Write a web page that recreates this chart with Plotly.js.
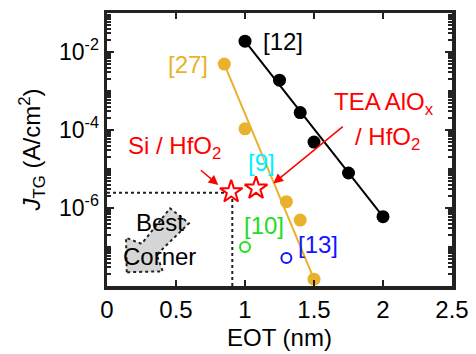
<!DOCTYPE html>
<html>
<head>
<meta charset="utf-8">
<script src="https://cdn.plot.ly/plotly-3.0.1.min.js"></script>
<style>html,body{margin:0;padding:0;background:#fff;}#chart{width:476px;height:354px;}</style>
</head>
<body>
<div id="chart"></div>
<script>
// ---- data ----
const ref12_x = [1.0, 1.25, 1.4, 1.5, 1.75, 2.0];
const ref12_y = [1.9e-2, 1.9e-3, 2.8e-4, 4.9e-5, 7.9e-6, 6.0e-7];
const ref12_fit_x = [1.0, 2.0];
const ref12_fit_y = [1.9e-2, 6.0e-7];

const ref27_x = [0.85, 1.0, 1.3, 1.4, 1.5];
const ref27_y = [4.9e-3, 1.07e-4, 1.45e-6, 4.9e-7, 1.5e-8];
const ref27_fit_x = [0.85, 1.5];
const ref27_fit_y = [4.9e-3, 1.5e-8];

const ref10_x = [1.0];
const ref10_y = [1.0e-7];
const ref13_x = [1.3];
const ref13_y = [5.2e-8];

const star_x = [0.9, 1.08];          // Si/HfO2, TEA AlOx/HfO2
const star_y = [2.6e-6, 3.2e-6];

const guide_h_x = [0, 0.908];
const guide_h_y = [2.45e-6, 2.45e-6];
const guide_v_x = [0.908, 0.908];
const guide_v_y = [1e-8, 2.45e-6];

// "Best corner" arrow outline
const best_x = [0.143, 0.138, 0.251, 0.457, 0.594, 0.360, 0.404, 0.143];
const best_y = [2.25e-8, 1.72e-7, 1.21e-7, 9.8e-7, 4.07e-7, 6.35e-8, 2.38e-8, 2.25e-8];

const yMajor = [1e-6, 1e-4, 1e-2];
const yMajorText = ['10<sup>-6</sup>', '10<sup>-4</sup>', '10<sup>-2</sup>'];
const xTicks = [0, 0.5, 1, 1.5, 2, 2.5];
const xTickText = ['0', '0.5', '1', '1.5', '2', '2.5'];

const ORANGE = '#EAB22C';
const FONT = 'Liberation Sans, Arial, sans-serif';

const yMinor = [];
for (let e = -8; e <= -2; e++) for (let k = 1; k <= 9; k++) {
  const v = k * Math.pow(10, e);
  if (!yMajor.some(m => Math.abs(m - v) / v < 1e-6)) yMinor.push(v);
}
yMinor.push(1e-1);

const traces = [
  {x: best_x, y: best_y, mode: 'lines', fill: 'toself', fillcolor: '#d6d6d6',
   line: {color: '#222', width: 2, dash: 'dot'}, hoverinfo: 'skip'},
  {x: guide_h_x, y: guide_h_y, mode: 'lines', line: {color: '#222', width: 2, dash: 'dot'}},
  {x: guide_v_x, y: guide_v_y, mode: 'lines', line: {color: '#222', width: 2, dash: 'dot'}},
  {x: ref27_fit_x, y: ref27_fit_y, mode: 'lines', line: {color: ORANGE, width: 2}},
  {x: ref12_fit_x, y: ref12_fit_y, mode: 'lines', line: {color: '#000', width: 2}},
  {x: ref27_x, y: ref27_y, mode: 'markers', marker: {color: ORANGE, size: 13}},
  {x: ref12_x, y: ref12_y, mode: 'markers', marker: {color: '#000', size: 13}},
  {x: ref10_x, y: ref10_y, mode: 'markers', marker: {symbol: 'circle-open', color: '#22dd22', size: 10, line: {width: 2}}},
  {x: ref13_x, y: ref13_y, mode: 'markers', marker: {symbol: 'circle-open', color: '#1515ff', size: 10, line: {width: 2}}},
  {x: star_x, y: star_y, mode: 'markers', marker: {symbol: 'star', color: '#fff', size: 17, line: {color: '#ff0000', width: 2}}}
];

function txt(text, x, y, color, size) {
  return {text: text, x: x, y: Math.log10(y), xref: 'x', yref: 'y', showarrow: false,
          font: {family: FONT, size: size || 24, color: color}, xanchor: 'center', yanchor: 'middle'};
}

const annotations = [
  txt('[12]', 1.275, Math.pow(10, -1.72), '#000'),
  txt('[27]', 0.587, Math.pow(10, -2.31), ORANGE),
  txt('TEA AlO<sub>x</sub>', 2.01, Math.pow(10, -3.32), '#ff0000'),
  txt('/ HfO<sub>2</sub>', 2.03, Math.pow(10, -4.22), '#ff0000'),
  txt('Si / HfO<sub>2</sub>', 0.486, Math.pow(10, -4.45), '#ff0000'),
  txt('[9]', 1.123, Math.pow(10, -4.83), '#00f0ff'),
  txt('[10]', 1.138, Math.pow(10, -6.46), '#22dd22'),
  txt('[13]', 1.529, Math.pow(10, -6.94), '#1515ff'),
  txt('Best', 0.384, Math.pow(10, -6.38), '#000'),
  txt('Corner', 0.384, Math.pow(10, -7.25), '#000'),
  {x: 0.807, y: -5.41, xref: 'x', yref: 'y', text: '', showarrow: true, ax: -19, ay: -16,
   arrowcolor: '#ff0000', arrowwidth: 1.5, arrowhead: 2, arrowsize: 1.3},
  {x: 1.205, y: -5.37, xref: 'x', yref: 'y', text: '', showarrow: true, ax: 71, ay: -58,
   arrowcolor: '#ff0000', arrowwidth: 1.5, arrowhead: 2, arrowsize: 1.3}
];

const layout = {
  width: 476, height: 354,
  margin: {l: 107, r: 24, t: 13, b: 68},
  paper_bgcolor: '#fff', plot_bgcolor: '#fff',
  showlegend: false,
  font: {family: FONT, color: '#000'},
  xaxis: {
    range: [0, 2.5], tickmode: 'array', tickvals: xTicks, ticktext: xTickText,
    ticks: 'inside', ticklen: 6, tickwidth: 2, tickcolor: '#222',
    showline: true, linewidth: 3.5, linecolor: '#222', mirror: 'ticks',
    showgrid: false, zeroline: false,
    tickfont: {family: FONT, size: 24, color: '#000'},
    title: {text: 'EOT (nm)', font: {family: FONT, size: 24, color: '#000'}, standoff: 8}
  },
  yaxis: {
    type: 'log', range: [-8, -1], tickmode: 'array', tickvals: yMajor, ticktext: yMajorText,
    ticks: 'inside', ticklen: 7, tickwidth: 2, tickcolor: '#222',
    minor: {tickmode: 'array', tickvals: yMinor, ticks: 'inside', ticklen: 4, tickwidth: 2, tickcolor: '#222', showgrid: false},
    showline: true, linewidth: 3.5, linecolor: '#222', mirror: 'ticks',
    showgrid: false, zeroline: false,
    tickfont: {family: FONT, size: 23, color: '#000'},
    title: {text: '<i>J</i><sub>TG</sub> (A/cm<sup>2</sup>)', font: {family: FONT, size: 24, color: '#000'}, standoff: 12}
  },
  annotations: annotations
};

Plotly.newPlot('chart', traces, layout, {displayModeBar: false, staticPlot: true});
</script>
</body>
</html>
